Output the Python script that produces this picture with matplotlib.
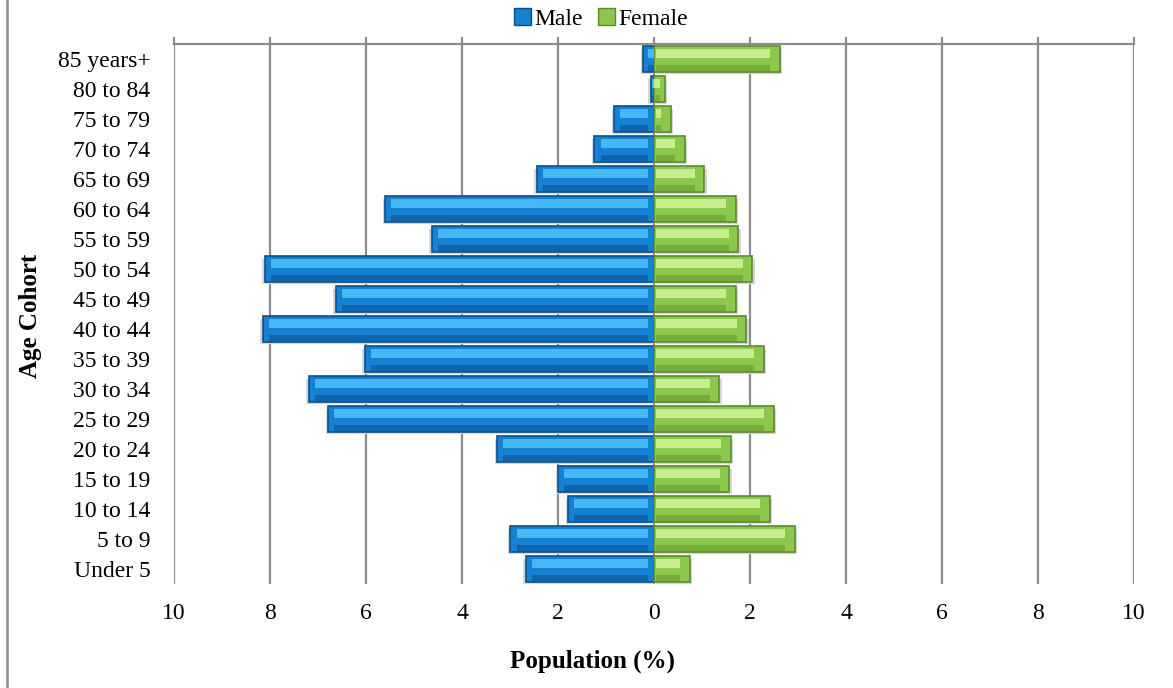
import matplotlib
matplotlib.use("Agg")
import matplotlib.pyplot as plt
from matplotlib.patches import Patch
from matplotlib.lines import Line2D

plt.rcParams['font.family'] = ['Liberation Serif', 'DejaVu Serif']

age_groups = ["85 years+", "80 to 84", "75 to 79", "70 to 74", "65 to 69", "60 to 64",
              "55 to 59", "50 to 54", "45 to 49", "40 to 44", "35 to 39", "30 to 34",
              "25 to 29", "20 to 24", "15 to 19", "10 to 14", "5 to 9", "Under 5"]
male = [0.23, 0.07, 0.83, 1.24, 2.44, 5.60, 4.63, 8.11, 6.63, 8.15, 6.03, 7.19,
        6.79, 3.27, 2.00, 1.79, 2.99, 2.67]
female = [2.62, 0.23, 0.35, 0.64, 1.05, 1.71, 1.76, 2.05, 1.71, 1.92, 2.29, 1.36,
          2.49, 1.60, 1.57, 2.41, 2.93, 0.75]
xticks = [-10, -8, -6, -4, -2, 0, 2, 4, 6, 8, 10]
xticklabels = ["10", "8", "6", "4", "2", "0", "2", "4", "6", "8", "10"]

male_col, male_light, male_edge = "#1680d2", "#45b8f5", "#0b4f8a"
fem_col, fem_light, fem_edge = "#8cc84b", "#c6ee8e", "#5c8a30"

fig = plt.figure(figsize=(11.73, 6.88), dpi=100)
ax = fig.add_axes([174/1173, 1-584/688, 960/1173, 540/688])

y = list(range(len(age_groups)))
neg_male = [-v for v in male]
h = 0.84
# shadows
ax.barh([p + 0.07 for p in y], neg_male, height=h, left=[-0.05]*len(y), color="#d6d6d6", zorder=2, linewidth=0)
ax.barh([p + 0.07 for p in y], female, height=h, left=[0.05]*len(y), color="#d6d6d6", zorder=2, linewidth=0)
# main bars
ax.barh(y, neg_male, height=h, color=male_col, edgecolor=male_edge, linewidth=1.2, zorder=3)
ax.barh(y, female, height=h, color=fem_col, edgecolor=fem_edge, linewidth=1.2, zorder=3)
# bevel highlight (upper part)
ax.barh([p - 0.2 for p in y], [min(-0.0, v + 0.25) if v < -0.3 else v * 0.5 for v in neg_male],
        height=0.3, left=[-0.12 if v < -0.3 else 0 for v in neg_male], color=male_light, linewidth=0, zorder=4)
ax.barh([p - 0.2 for p in y], [max(0.0, v - 0.25) if v > 0.3 else v * 0.5 for v in female],
        height=0.3, left=[0.05 if v > 0.3 else 0 for v in female], color=fem_light, linewidth=0, zorder=4)
# bevel dark bottom
ax.barh([p + 0.3 for p in y], [min(-0.0, v + 0.25) if v < -0.3 else v * 0.5 for v in neg_male],
        height=0.2, left=[-0.12 if v < -0.3 else 0 for v in neg_male], color="#0d66ad", linewidth=0, zorder=4)
ax.barh([p + 0.3 for p in y], [max(0.0, v - 0.25) if v > 0.3 else v * 0.5 for v in female],
        height=0.2, left=[0.05 if v > 0.3 else 0 for v in female], color="#74ad39", linewidth=0, zorder=4)

ax.set_xlim(-10, 10)
ax.set_ylim(len(age_groups) - 0.5, -0.5)
ax.set_xticks(xticks)
ax.set_xticklabels(xticklabels, fontsize=17)
ax.set_yticks(y)
ax.set_yticklabels(age_groups, fontsize=17)
ax.grid(axis="x", color="#8c8c8c", linewidth=1.6, zorder=1)
ax.set_axisbelow(True)
for s in ["left", "right", "bottom"]:
    ax.spines[s].set_visible(False)
ax.spines["top"].set_color("#8c8c8c")
ax.spines["top"].set_linewidth(1.6)
ax.tick_params(axis="y", length=0, pad=17)
ax.tick_params(axis="x", length=0, pad=14, colors="#000000")

fig.text(593/1173, 1-661/688, "Population (%)", fontsize=18, fontweight="bold",
         ha="center", va="center")
fig.text(30/1173, 1-316/688, "Age Cohort", fontsize=18, fontweight="bold",
         ha="center", va="center", rotation=90)

# small tick marks on top axis
for t in xticks:
    ax.add_line(Line2D([t, t], [-0.5, -0.7], color="#8c8c8c", linewidth=1.6, clip_on=False))

handles = [Patch(facecolor=male_col, edgecolor=male_edge, label="Male"),
           Patch(facecolor=fem_col, edgecolor=fem_edge, label="Female")]
fig.legend(handles=handles, loc="center", bbox_to_anchor=(601/1173, 1-19/688), ncol=2,
           frameon=False, fontsize=17, handlelength=0.75, handleheight=0.75,
           handletextpad=0.15, columnspacing=0.6, borderpad=0.1)

# left figure border
fig.add_artist(Line2D([7/1173, 7/1173], [0, 1], color="#8c8c8c", linewidth=1.8, transform=fig.transFigure))

fig.savefig("out.png", dpi=100)
